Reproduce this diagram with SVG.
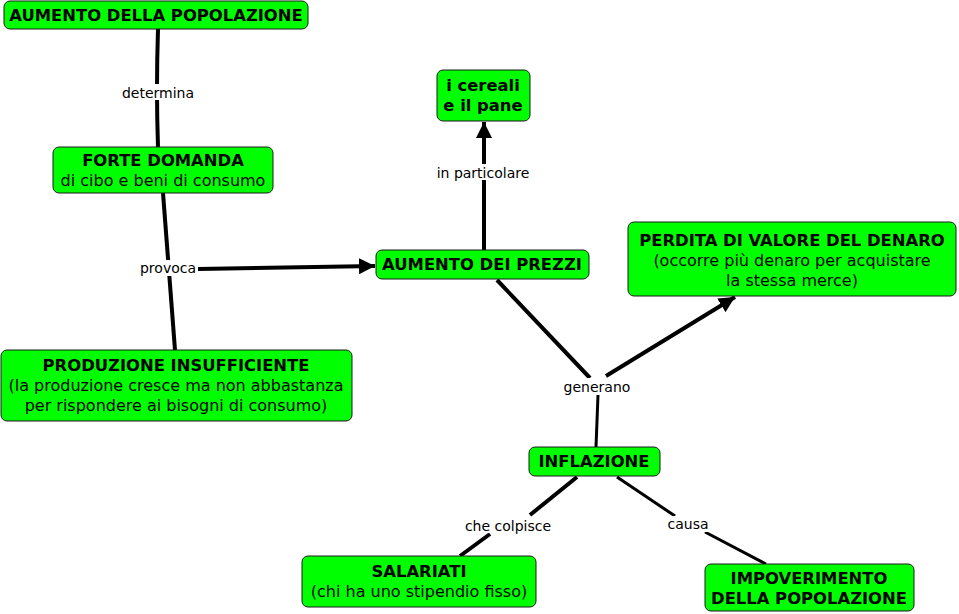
<svg xmlns="http://www.w3.org/2000/svg" width="959" height="614" viewBox="0 0 959 614">
<defs>
<style>
.n{fill:#00ff00;stroke:#1a1a1a;stroke-width:1}
.b{font-family:"DejaVu Sans",Verdana,sans-serif;font-weight:bold;font-size:16.4px;fill:#000;text-anchor:middle}
.r{font-family:"DejaVu Sans",Verdana,sans-serif;font-size:16px;fill:#000;text-anchor:middle}
.l{font-family:"DejaVu Sans",Verdana,sans-serif;font-size:14px;fill:#000;text-anchor:middle}
.c{fill:none;stroke:#000;stroke-width:4}
.c3{fill:none;stroke:#000;stroke-width:3}
.lb{fill:#fff}
</style>
<marker id="ah" viewBox="0 0 10 10" refX="10" refY="5" markerWidth="4" markerHeight="4" markerUnits="strokeWidth" orient="auto">
<path d="M0,0 L10,5 L0,10 z" fill="#000"/>
</marker>
</defs>
<rect width="959" height="614" fill="#fff"/>
<g id="connectors">
<path class="c" d="M158,29 Q156,90 158,147"/>
<path class="c" d="M163,193 L175,350"/>
<path class="c" d="M198,269 L375,266" marker-end="url(#ah)"/>
<path class="c" d="M484,250 L484,122" marker-end="url(#ah)"/>
<path class="c" d="M497,280 L590,378"/>
<path class="c3" d="M598,395 L596,447"/>
<path class="c" d="M606,376 L735,297" marker-end="url(#ah)"/>
<path class="c" d="M577,477 L530,515"/>
<path class="c" d="M490,534 L460,556"/>
<path class="c3" d="M617,477 L675,516"/>
<path class="c3" d="M705,532 L766,564"/>
<g>
<rect class="lb" x="120" y="84" width="77" height="16"/>
<text class="l" x="158" y="98">determina</text>
<rect class="lb" x="138" y="260" width="60" height="16"/>
<text class="l" x="168" y="273">provoca</text>
<rect class="lb" x="433" y="164" width="100" height="16"/>
<text class="l" x="483" y="178">in particolare</text>
<rect class="lb" x="561" y="378" width="72" height="16"/>
<text class="l" x="597" y="392">generano</text>
<rect class="lb" x="462" y="517" width="92" height="16"/>
<text class="l" x="508" y="531">che colpisce</text>
<rect class="lb" x="665" y="516" width="46" height="16"/>
<text class="l" x="688" y="529">causa</text>
</g>
</g>
<g id="n1"><rect class="n" x="4" y="1" width="304" height="28" rx="6"/><text class="b" x="156" y="21">AUMENTO DELLA POPOLAZIONE</text></g>
<g id="n2"><rect class="n" x="53" y="147" width="220" height="46" rx="6"/><text class="b" x="163" y="166">FORTE DOMANDA</text><text class="r" x="163" y="186">di cibo e beni di consumo</text></g>
<g id="n3"><rect class="n" x="1" y="350" width="351" height="71" rx="6"/><text class="b" x="176" y="371">PRODUZIONE INSUFFICIENTE</text><text class="r" x="176" y="391">(la produzione cresce ma non abbastanza</text><text class="r" x="176" y="411">per rispondere ai bisogni di consumo)</text></g>
<g id="n4"><rect class="n" x="376" y="250" width="213" height="29" rx="6"/><text class="b" x="482" y="270">AUMENTO DEI PREZZI</text></g>
<g id="n5"><rect class="n" x="437" y="70" width="93" height="51" rx="6"/><text class="b" x="483" y="91">i cereali</text><text class="b" x="483" y="111">e il pane</text></g>
<g id="n6"><rect class="n" x="628" y="222" width="328" height="74" rx="6"/><text class="b" x="792" y="246">PERDITA DI VALORE DEL DENARO</text><text class="r" x="792" y="266">(occorre più denaro per acquistare</text><text class="r" x="792" y="286">la stessa merce)</text></g>
<g id="n7"><rect class="n" x="529" y="447" width="131" height="29" rx="6"/><text class="b" x="594" y="467">INFLAZIONE</text></g>
<g id="n8"><rect class="n" x="302" y="556" width="234" height="51" rx="6"/><text class="b" x="419" y="577">SALARIATI</text><text class="r" x="419" y="597">(chi ha uno stipendio fisso)</text></g>
<g id="n9"><rect class="n" x="705" y="564" width="209" height="47" rx="6"/><text class="b" x="809" y="584">IMPOVERIMENTO</text><text class="b" x="809" y="604">DELLA POPOLAZIONE</text></g>
</svg>
